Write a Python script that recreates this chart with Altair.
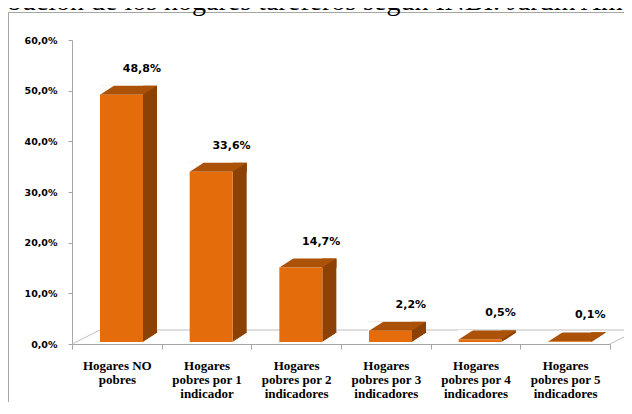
import altair as alt
import pandas as pd

# ---- data ----
categories = [
    "Hogares NO\npobres",
    "Hogares\npobres por 1\nindicador",
    "Hogares\npobres por 2\nindicadores",
    "Hogares\npobres por 3\nindicadores",
    "Hogares\npobres por 4\nindicadores",
    "Hogares\npobres por 5\nindicadores",
]
values = [48.8, 33.6, 14.7, 2.2, 0.5, 0.1]
value_labels = ["48,8%", "33,6%", "14,7%", "2,2%", "0,5%", "0,1%"]
y_ticks = [0, 10, 20, 30, 40, 50, 60]
title_text = "Distribución de los hogares tareferos según INBI. Jardín América"

FRONT = "#E46C0A"
TOP = "#AB5108"
SIDE = "#8C4105"
AXIS = "#A6A6A6"
FLOOR = "#BFBFBF"

W, H = 538, 304

df = pd.DataFrame({"cat": categories, "val": values, "lab": value_labels})
one = pd.DataFrame({"k": [0]})

x = alt.X(
    "cat:N",
    sort=categories,
    scale=alt.Scale(paddingInner=0, paddingOuter=0),
    axis=alt.Axis(
        title=None, labelAngle=0, labelExpr="split(datum.label, '\\n')",
        labelFont="Liberation Serif", labelFontSize=13, labelFontWeight="bold",
        labelColor="black", labelLineHeight=14, labelPadding=10, tickSize=5,
        tickBand="extent", domainColor=AXIS, tickColor=AXIS, labelLimit=0,
        labelOverlap=False,
    ),
)
y = alt.Y(
    "val:Q",
    scale=alt.Scale(domain=[0, 60]),
    axis=alt.Axis(
        title=None, values=y_ticks, grid=False,
        labelExpr="replace(format(datum.value, '.1f'), '.', ',') + '%'",
        labelFont="DejaVu Sans", labelFontSize=9.5, labelFontWeight="bold",
        labelColor="black", labelPadding=11, tickSize=4, domainColor=AXIS,
        tickColor=AXIS,
    ),
)
y0 = alt.datum(0)

base = alt.Chart(df)
single = alt.Chart(one)

frame = single.mark_rect(fillOpacity=0, stroke="#A6A6A6", strokeWidth=1).encode(
    x=alt.value(-63.5), y=alt.value(-27.5), x2=alt.value(W + 60), y2=alt.value(H + 120)
)
title = single.mark_text(
    font="Liberation Serif", fontSize=28, align="left", baseline="alphabetic", color="black"
).encode(x=alt.value(-128), y=alt.value(-30), text=alt.value(title_text))

floor_back = single.mark_rule(color=FLOOR, yOffset=-14, y2Offset=-14).encode(
    x=alt.value(28), x2=alt.value(W + 30), y=y0, y2=y0
)
floor_left = single.mark_rule(color=FLOOR, y2Offset=-14).encode(
    x=alt.value(0), x2=alt.value(28), y=y0, y2=y0
)
floor_right = single.mark_rule(color=FLOOR, y2Offset=-13).encode(
    x=alt.value(W), x2=alt.value(W + 26), y=y0, y2=y0
)

s = 1.2857
e = 1.35
m = 0.0643
side = base.mark_bar(color=SIDE, width=14, xOffset=33.17, yOffset=-11, y2Offset=-11).encode(
    x=x, y=y, y2=y0
)
tri_bl = base.mark_point(
    shape=f"M-1,-{e} L-1,0 L1.1,-{e} Z", size=196, filled=True, opacity=1,
    color=SIDE, strokeWidth=0, xOffset=33.17, yOffset=-2,
).encode(x=x, y=y0)
top = base.mark_bar(color=TOP, width=57, xOffset=11.67, yOffset=-11, y2Offset=-2).encode(
    x=x, y=y, y2="val:Q"
)
tri_tr = base.mark_point(
    shape=f"M-1.1,{m} L1,-{s} L1,{m} Z", size=196, filled=True, opacity=1,
    color=SIDE, strokeWidth=0, xOffset=33.17, yOffset=-2,
).encode(x=x, y=y)
tri_br_white = base.mark_point(
    shape=f"M-1.1,{m} L1.1,-{e} L1.1,{m} Z", size=196, filled=True, opacity=1,
    color="white", strokeWidth=0, xOffset=33.17, yOffset=-2,
).encode(x=x, y=y0)
tri_tl_white = base.mark_point(
    shape=f"M-0.1,{m} L2.1,-{e} L-0.1,-{e} Z", size=196, filled=True, opacity=1,
    color="white", strokeWidth=0, xOffset=-16.83, yOffset=-2,
).encode(x=x, y=y)
front = base.mark_bar(color=FRONT, width=43, xOffset=4.67, yOffset=-2, y2Offset=-2).encode(
    x=x, y=y, y2=y0
)
labels = base.mark_text(
    font="DejaVu Sans", fontWeight="bold", fontSize=11, dx=25, dy=-28,
    baseline="middle", align="center", color="black",
).encode(x=x, y=y, text="lab:N")

chart = alt.layer(
    frame, title, floor_back, floor_left, floor_right,
    side, tri_bl, top, tri_tr, tri_br_white, tri_tl_white, front, labels,
).properties(
    width=W, height=H,
    padding={"left": 64, "top": 32, "right": 14, "bottom": 58},
    autosize=alt.AutoSizeParams(type="none"),
    background="white",
).configure_view(stroke=None)

chart.save("out.html", embed_options={"renderer": "svg", "actions": False})
